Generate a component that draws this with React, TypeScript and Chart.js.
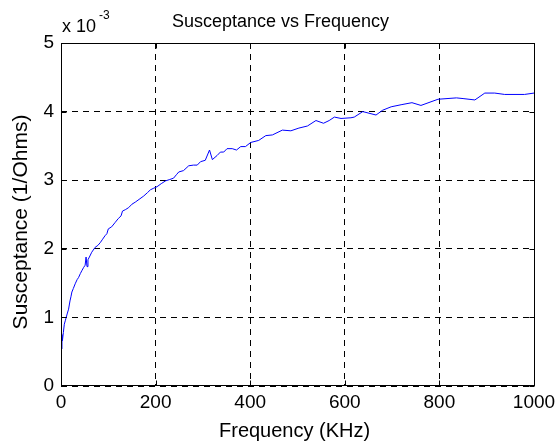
import React, { useEffect, useRef } from "react";
import { Chart, registerables } from "chart.js";

Chart.register(...registerables);

// Frequency in KHz
const frequencyKHz = [
  0, 2, 3, 5, 7, 9, 11, 13, 16, 19, 21, 23, 26, 30, 34, 37, 41, 44, 48, 51, 53, 55, 57,
  60, 65, 72, 78, 83, 88, 93, 97, 100, 107, 114, 121, 127, 130, 136, 143, 150, 157,
  165, 175, 183, 189, 195, 203, 212, 221, 230, 238, 244, 249, 259, 270, 280, 288,
  295, 305, 314, 320, 330, 337, 344, 351, 362, 371, 380, 390, 401, 418, 433, 447,
  468, 486, 503, 521, 539, 555, 567, 578, 592, 613, 620, 638, 666, 680, 698, 719,
  742, 761, 797, 836, 850, 875, 896, 917, 938, 980, 1000,
];

// Susceptance in units of 1e-3 (1/Ohms)
const susceptance = [
  0.54, 0.75, 0.66, 0.78, 0.9, 0.95, 1.0, 1.05, 1.12, 1.24, 1.3, 1.37, 1.42, 1.49, 1.55,
  1.58, 1.64, 1.68, 1.73, 1.76, 1.88, 1.74, 1.84, 1.88, 1.95, 2.02, 2.05, 2.09, 2.14,
  2.19, 2.22, 2.29, 2.32, 2.38, 2.44, 2.48, 2.55, 2.57, 2.6, 2.65, 2.68, 2.72, 2.77,
  2.82, 2.86, 2.88, 2.905, 2.95, 2.99, 3.01, 3.03, 3.08, 3.12, 3.14, 3.21, 3.22, 3.22,
  3.27, 3.29, 3.44, 3.3, 3.36, 3.41, 3.41, 3.46, 3.46, 3.44, 3.49, 3.49, 3.55, 3.58,
  3.65, 3.66, 3.73, 3.72, 3.76, 3.79, 3.87, 3.83, 3.87, 3.92, 3.9, 3.91, 3.92, 4.0,
  3.95, 4.02, 4.07, 4.1, 4.13, 4.09, 4.18, 4.2, 4.19, 4.17, 4.27, 4.27, 4.25, 4.25,
  4.27,
];

const xTicks = [0, 200, 400, 600, 800, 1000];
const yTicks = [0, 1, 2, 3, 4, 5];
const titleText = "Susceptance vs Frequency";
const xLabel = "Frequency (KHz)";
const yLabel = "Susceptance (1/Ohms)";
const exponentBase = "x 10";
const exponentPower = "-3";

const FONT = 'Arial, "Liberation Sans", Helvetica, sans-serif';

const matlabPlugin = {
  id: "matlabDecor",
  afterDraw(chart: any) {
    const { ctx, chartArea: a, scales } = chart;
    const L = Math.floor(a.left) + 0.5;
    const R = Math.floor(a.right) + 0.5;
    const T = Math.floor(a.top) + 0.5;
    const B = Math.floor(a.bottom) - 0.5;
    ctx.save();
    ctx.setLineDash([]);
    ctx.strokeStyle = "#000";
    ctx.lineWidth = 1;
    ctx.strokeRect(L, T, R - L, B - T);
    const tl = 5;
    ctx.beginPath();
    xTicks.forEach((v) => {
      const x = Math.round(scales.x.getPixelForValue(v)) + 0.5;
      ctx.moveTo(x, B);
      ctx.lineTo(x, B - tl);
      ctx.moveTo(x, T);
      ctx.lineTo(x, T + tl);
    });
    yTicks.forEach((v) => {
      const y = Math.round(scales.y.getPixelForValue(v)) + 0.5;
      ctx.moveTo(L, y);
      ctx.lineTo(L + tl, y);
      ctx.moveTo(R, y);
      ctx.lineTo(R - tl, y);
    });
    ctx.stroke();

    ctx.fillStyle = "#000";
    // Title
    ctx.font = `18px ${FONT}`;
    ctx.textAlign = "left";
    ctx.textBaseline = "alphabetic";
    ctx.fillText(titleText, 172, 27);

    // exponent
    ctx.fillText(exponentBase, a.left + 1, 32);
    const w = ctx.measureText(exponentBase).width;
    ctx.font = `12px ${FONT}`;
    ctx.fillText(exponentPower, a.left + 1 + w + 3, 19);

    // x label
    ctx.font = `20px ${FONT}`;
    ctx.textAlign = "left";
    ctx.textBaseline = "alphabetic";
    ctx.fillText(xLabel, 219, 437);

    // y label
    ctx.save();
    ctx.translate(27, 222);
    ctx.rotate(-Math.PI / 2);
    ctx.font = `21px ${FONT}`;
    ctx.textAlign = "center";
    ctx.textBaseline = "alphabetic";
    ctx.fillText(yLabel, 0, 0);
    ctx.restore();

    ctx.restore();
  },
};

export default function App() {
  const ref = useRef<HTMLCanvasElement | null>(null);

  useEffect(() => {
    if (!ref.current) return;
    const points = frequencyKHz.map((f, i) => ({ x: f, y: susceptance[i] }));
    const chart = new Chart(ref.current, {
      type: "line",
      data: {
        datasets: [
          {
            data: points,
            borderColor: "#0000ff",
            borderWidth: 1,
            pointRadius: 0,
            tension: 0,
            fill: false,
          },
        ],
      },
      options: {
        responsive: false,
        animation: false,
        events: [],
        layout: { padding: { left: 0, right: 23, top: 43, bottom: 0 } },
        plugins: {
          legend: { display: false },
          tooltip: { enabled: false },
          title: { display: false },
        },
        scales: {
          x: {
            type: "linear",
            min: 0,
            max: 1000,
            afterFit: (s: any) => {
              s.height = 59;
              s.paddingRight = 0;
              s.paddingLeft = 0;
            },
            afterBuildTicks: (s: any) => {
              s.ticks = xTicks.map((v) => ({ value: v }));
            },
            ticks: {
              color: "#000",
              font: { family: FONT, size: 19 },
              padding: 5,
              maxRotation: 0,
              autoSkip: false,
              callback: (v: any) => String(v),
            },
            grid: { color: "#000", lineWidth: 1, drawTicks: false },
            border: { display: false, dash: [6, 5] },
          },
          y: {
            type: "linear",
            min: 0,
            max: 5,
            afterFit: (s: any) => {
              s.width = 61;
              s.paddingTop = 0;
              s.paddingBottom = 0;
            },
            afterBuildTicks: (s: any) => {
              s.ticks = yTicks.map((v) => ({ value: v }));
            },
            ticks: {
              color: "#000",
              font: { family: FONT, size: 19 },
              padding: 7,
              autoSkip: false,
              callback: (v: any) => String(v),
            },
            grid: { color: "#000", lineWidth: 1, drawTicks: false },
            border: { display: false, dash: [6, 5] },
          },
        },
      },
      plugins: [matlabPlugin],
    });
    return () => chart.destroy();
  }, []);

  return (
    <div style={{ position: "fixed", left: 0, top: 0, width: 557, height: 445, background: "#fff" }}>
      <canvas ref={ref} width={557} height={445} />
    </div>
  );
}
